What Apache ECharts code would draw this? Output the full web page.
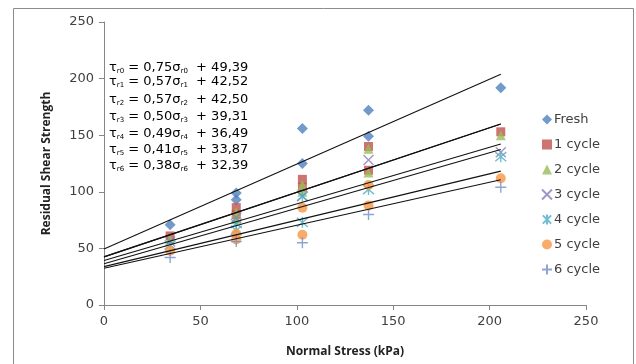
<!DOCTYPE html>
<html>
<head>
<meta charset="utf-8">
<script src="https://cdn.jsdelivr.net/npm/echarts@6/dist/echarts.min.js"></script>
<style>
	html, body { margin: 0; padding: 0; background: #ffffff; }
	#chart { width: 636px; height: 364px; }
</style>
</head>
<body>
<div id="chart"></div>
<script>
// normal stress (kPa) / residual shear strength points
const names = ['Fresh', '1 cycle', '2 cycle', '3 cycle', '4 cycle', '5 cycle', '6 cycle']
const fresh = [[34.3, 71], [68.6, 99], [68.6, 93], [102.9, 156], [102.9, 125], [137.2, 172], [137.2, 149], [205.8, 192]]
const cycle1 = [[34.3, 61], [68.6, 86], [68.6, 80], [102.9, 111], [102.9, 104], [137.2, 140], [137.2, 119], [205.8, 153]]
const cycle2 = [[34.3, 58], [68.6, 82], [68.6, 76], [102.9, 106], [102.9, 100], [137.2, 138], [137.2, 117], [205.8, 150]]
const cycle3 = [[34.3, 56], [68.6, 77], [102.9, 96], [137.2, 128], [205.8, 135]]
const cycle4 = [[34.3, 53], [68.6, 72], [68.6, 66], [102.9, 96], [102.9, 73], [137.2, 102], [205.8, 131]]
const cycle5 = [[34.3, 48], [68.6, 63], [68.6, 58], [102.9, 86], [102.9, 62], [137.2, 106], [137.2, 88], [205.8, 112]]
const cycle6 = [[34.3, 42], [68.6, 56], [102.9, 55], [137.2, 80], [205.8, 104]]

// trend line coefficients (from the equations on the chart)
const slopes = [0.75, 0.57, 0.57, 0.50, 0.49, 0.41, 0.38]
const intercepts = [49.39, 42.52, 42.50, 39.31, 36.49, 33.87, 32.39]
const slopeText = ['0,75', '0,57', '0,57', '0,50', '0,49', '0,41', '0,38']
const interceptText = ['49,39', '42,52', '42,50', '39,31', '36,49', '33,87', '32,39']
const trendX = [0, 205.8]

const xTicks = [0, 50, 100, 150, 200, 250]
const yTicks = [0, 50, 100, 150, 200, 250]

const colors = ['#4f81bd', '#c0504d', '#9bbb59', '#8a7cb5', '#4bacc6', '#f79646', '#6f8fc7']
const symbols = [
	'diamond',
	'rect',
	'triangle',
	'path://M0,0L10,10M10,0L0,10',
	'path://M0,0L10,10M10,0L0,10M5,-1L5,11',
	'circle',
	'path://M5,0L5,10M0,5L10,5',
]
const sizes = [11, 9, 10, 10, 11, 10, 11]
const stroked = [false, false, false, true, true, false, true]
const pointData = [fresh, cycle1, cycle2, cycle3, cycle4, cycle5, cycle6]

const font = 'DejaVu Sans'
const chart = echarts.init(document.getElementById('chart'))

const scatterSeries = names.map((name, i) => ({
	name,
	type: 'scatter',
	data: pointData[i],
	symbol: symbols[i],
	symbolSize: sizes[i],
	z: 3,
	itemStyle: stroked[i]
		? { color: 'rgba(0,0,0,0)', borderColor: colors[i], borderWidth: 1.4 }
		: { color: colors[i] },
}))

const lineSeries = slopes.map((m, i) => ({
	name: 'trend' + i,
	type: 'line',
	data: trendX.map((x) => [x, m * x + intercepts[i]]),
	showSymbol: false,
	symbol: 'none',
	silent: true,
	z: 4,
	lineStyle: { color: '#111111', width: 1.1 },
}))

const eqTops = [61, 75, 93, 110, 127, 143, 159]
const eqGraphics = slopeText.map((s, i) => ({
	type: 'text',
	left: 109,
	top: eqTops[i],
	z: 10,
	style: {
		text: '{a|τ}{s|r' + i + '}{a| = ' + s + 'σ}{s|r' + i + '}{a|  + ' + interceptText[i] + '}',
		rich: {
			a: { fontFamily: font, fontSize: 13, color: '#222222', lineHeight: 15, verticalAlign: 'middle' },
			s: { fontFamily: font, fontSize: 7, color: '#222222', lineHeight: 8, verticalAlign: 'bottom' },
		},
	},
}))

chart.setOption({
	animation: false,
	backgroundColor: '#ffffff',
	grid: { left: 104, right: 50, top: 22, bottom: 59 },
	legend: {
		data: names,
		orient: 'vertical',
		left: 536,
		top: 108,
		itemWidth: 10,
		itemHeight: 10,
		itemGap: 12,
		textStyle: { fontFamily: font, fontSize: 13, color: '#404040', padding: [0, 0, 0, -3] },
	},
	xAxis: {
		type: 'value',
		min: xTicks[0],
		max: xTicks[xTicks.length - 1],
		interval: 50,
		name: 'Normal Stress (kPa)',
		nameLocation: 'middle',
		nameGap: 41,
		nameTextStyle: { fontFamily: 'Open Sans', fontWeight: 'bold', fontSize: 12, color: '#222222' },
		axisLine: { lineStyle: { color: '#868686' } },
		axisTick: { show: true, length: 5, lineStyle: { color: '#868686' } },
		axisLabel: { fontFamily: font, fontSize: 13, color: '#404040', margin: 10 },
		splitLine: { show: false },
	},
	yAxis: {
		type: 'value',
		min: yTicks[0],
		max: yTicks[yTicks.length - 1],
		interval: 50,
		name: 'Residual Shear Strength',
		nameLocation: 'middle',
		nameGap: 51,
		nameTextStyle: { fontFamily: 'Open Sans', fontWeight: 'bold', fontSize: 12, color: '#222222' },
		axisLine: { show: true, lineStyle: { color: '#868686' } },
		axisTick: { show: true, length: 5, lineStyle: { color: '#868686' } },
		axisLabel: { fontFamily: font, fontSize: 13, color: '#404040', margin: 10 },
		splitLine: { show: false },
	},
	graphic: [
		{
			type: 'rect',
			left: 11,
			top: 6,
			shape: { width: 620, height: 370 },
			style: { fill: 'none', stroke: '#8c8c8c', lineWidth: 1 },
			silent: true,
			z: -1,
		},
		...eqGraphics,
	],
	series: [...lineSeries, ...scatterSeries],
})
</script>
</body>
</html>
